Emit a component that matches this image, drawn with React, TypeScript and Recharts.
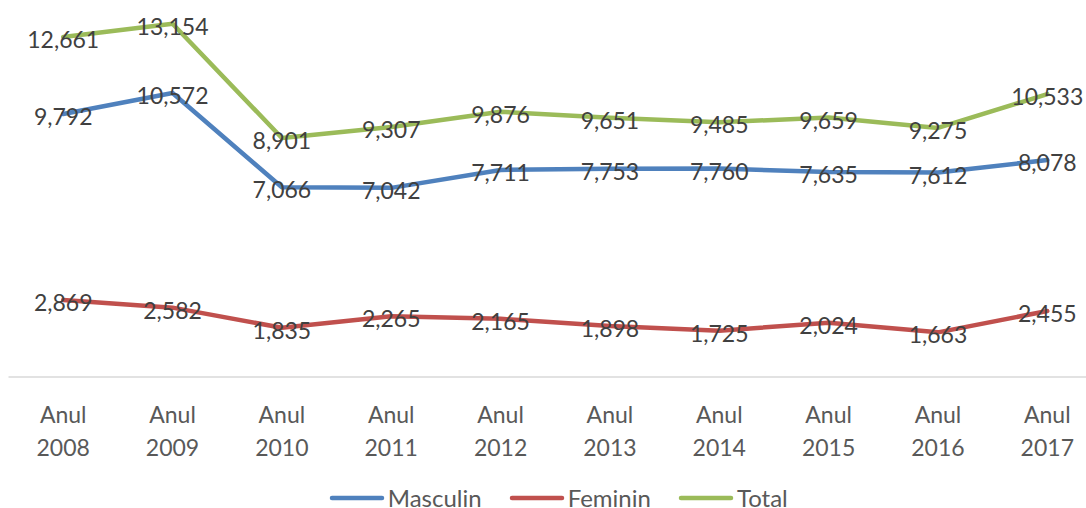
import React from 'react';
import { LineChart, Line, XAxis, YAxis, Legend, LabelList } from 'recharts';

const years = ['2008', '2009', '2010', '2011', '2012', '2013', '2014', '2015', '2016', '2017'];
const masculin = [9792, 10572, 7066, 7042, 7711, 7753, 7760, 7635, 7612, 8078];
const feminin = [2869, 2582, 1835, 2265, 2165, 1898, 1725, 2024, 1663, 2455];
const total = [12661, 13154, 8901, 9307, 9876, 9651, 9485, 9659, 9275, 10533];

const series = [
  { key: 'Masculin', color: '#4F81BD' },
  { key: 'Feminin', color: '#C0504D' },
  { key: 'Total', color: '#9BBB59' },
];

const data = years.map((y, i) => ({
  an: 'Anul ' + y,
  Masculin: masculin[i],
  Feminin: feminin[i],
  Total: total[i],
}));

const FONT = 'Lato, "Open Sans", sans-serif';

const YearTick = (props: any) => {
  const { x, y, payload } = props;
  const parts = String(payload.value).split(' ');
  return (
    <text x={x} textAnchor="middle" fill="#595959" fontSize={23} fontFamily={FONT} dominantBaseline="central">
      <tspan x={x} y={y + 36.5}>{parts[0]}</tspan>
      <tspan x={x} y={y + 69.5}>{parts[1]}</tspan>
    </text>
  );
};

const renderLabel = (props: any) => {
  const { x, y, value } = props;
  return (
    <text x={x} y={y + 2} textAnchor="middle" dominantBaseline="central" fill="#404040" fontSize={23} fontFamily={FONT}>
      {Number(value).toLocaleString('en-US')}
    </text>
  );
};

const LegendBox = () => (
  <div style={{ display: 'flex', justifyContent: 'center', alignItems: 'center', height: 24, paddingLeft: 6, fontFamily: FONT, fontSize: 24, color: '#595959' }}>
    {series.map((s, i) => (
      <div key={s.key} style={{ display: 'flex', alignItems: 'center', marginLeft: i === 0 ? 0 : 27 }}>
        <svg width={56} height={6} style={{ marginRight: 3 }}>
          <line x1={3} y1={3} x2={53} y2={3} stroke={s.color} strokeWidth={4.5} strokeLinecap="round" />
        </svg>
        <span style={{ display: 'block', lineHeight: '20px', height: 20 }}>{s.key}</span>
      </div>
    ))}
  </div>
);

export default function App() {
  return (
    <div style={{ position: 'absolute', left: 0, top: 0, width: 1086, height: 508, overflow: 'hidden', background: '#fff' }}>
      <LineChart width={1110} height={510} data={data} margin={{ top: 1, right: 8, left: 8.5, bottom: 0 }}>
        <XAxis
          dataKey="an"
          tickLine={false}
          tickSize={0}
          tickMargin={0}
          height={109}
          padding={{ left: 54.7, right: 54.7 }}
          axisLine={{ stroke: '#D9D9D9', strokeWidth: 1.5 }}
          tick={<YearTick />}
          interval={0}
        />
        <YAxis hide domain={[0, 14000]} />
        <Legend verticalAlign="bottom" height={24} content={<LegendBox />} />
        {series.map((s) => (
          <Line
            key={s.key}
            type="linear"
            dataKey={s.key}
            stroke={s.color}
            strokeWidth={4.5}
            strokeLinecap="round"
            strokeLinejoin="round"
            dot={false}
            isAnimationActive={false}
          >
            <LabelList dataKey={s.key} content={renderLabel} />
          </Line>
        ))}
      </LineChart>
    </div>
  );
}
